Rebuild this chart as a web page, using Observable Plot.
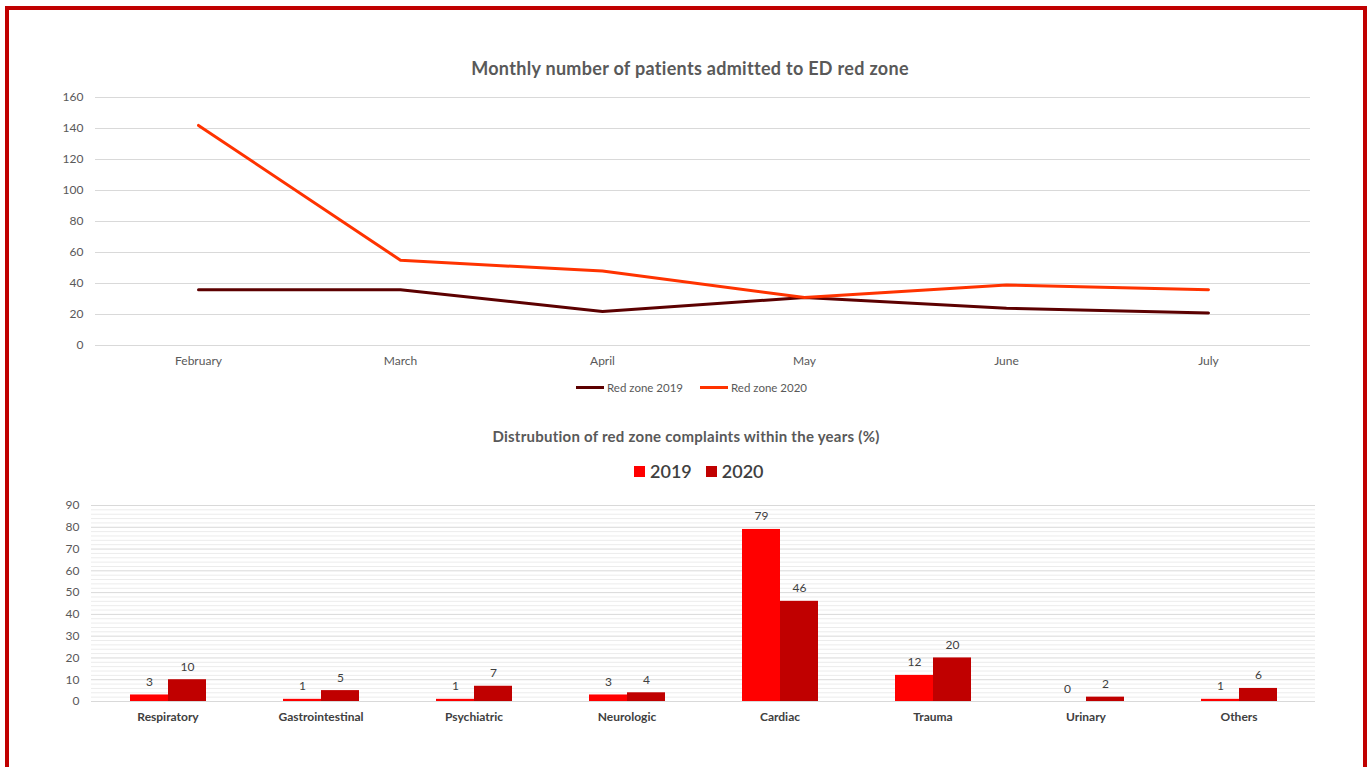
<!DOCTYPE html>
<html><head><meta charset="utf-8">
<script src="https://cdn.jsdelivr.net/npm/d3@7"></script>
<script src="https://cdn.jsdelivr.net/npm/@observablehq/plot@0.6"></script>
<style>
html,body{margin:0;padding:0;background:#fff;width:1370px;height:767px;overflow:hidden;font-family:Lato,"Open Sans",sans-serif;}
#frame{position:absolute;left:5px;top:6px;width:1354px;height:820px;border:4px solid #c00000;}
.abs{position:absolute;}
.title{width:1000px;text-align:center;font-weight:bold;color:#595959;white-space:nowrap;}
#t1{left:190px;top:57px;font-size:18px;letter-spacing:0.3px;}
#t2{left:186px;top:427px;font-size:15px;letter-spacing:0.25px;}
#lg1{left:576px;top:381px;display:flex;align-items:center;font-size:11.5px;color:#595959;white-space:nowrap;}
#lg1 .sw{display:inline-block;width:28px;height:3px;margin-right:3px;}
#lg2{left:634px;top:460px;display:flex;align-items:center;font-size:18px;font-weight:600;color:#404040;white-space:nowrap;}
#lg2 .sq{display:inline-block;width:11px;height:11px;margin-right:5px;}
</style></head>
<body>
<div id="frame"></div>
<div id="t1" class="abs title">Monthly number of patients admitted to ED red zone</div>
<div id="c1" class="abs" style="left:0;top:80px"></div>
<div id="lg1" class="abs"></div>
<div id="t2" class="abs title">Distrubution of red zone complaints within the years (%)</div>
<div id="lg2" class="abs"></div>
<div id="c2" class="abs" style="left:0;top:490px"></div>
<script>
const months = ["February","March","April","May","June","July"];
const seriesNames = ["Red zone 2019","Red zone 2020"];
const zone2019 = [36,36,22,31,24,21];
const zone2020 = [142,55,48,31,39,36];
const lineColors = ["#5c0000","#ff3300"];

const complaints = ["Respiratory","Gastrointestinal","Psychiatric","Neurologic","Cardiac","Trauma","Urinary","Others"];
const years = ["2019","2020"];
const pct2019 = [3,1,1,3,79,12,0,1];
const pct2020 = [10,5,7,4,46,20,2,6];
const barColors = ["#ff0000","#c00000"];

const lineData = months.flatMap((m,i)=>[
  {month:m, series:seriesNames[0], value:zone2019[i]},
  {month:m, series:seriesNames[1], value:zone2020[i]}
]);
const yTicks1 = d3.range(0,161,20);

const chart1 = Plot.plot({
  width:1370, height:300, marginTop:17, marginBottom:35, marginLeft:95, marginRight:60,
  style:{fontFamily:"Lato, sans-serif", fontSize:"12px", color:"#595959", background:"transparent"},
  x:{type:"point", domain:months, padding:0.5, label:null},
  y:{domain:[0,160], label:null},
  color:{domain:seriesNames, range:lineColors},
  marks:[
    Plot.ruleY(yTicks1, {stroke:"#d9d9d9", strokeWidth:1}),
    Plot.axisY(yTicks1, {tickSize:0, tickPadding:12, label:null}),
    Plot.axisX({tickSize:0, tickPadding:11, label:null}),
    Plot.line(lineData, {x:"month", y:"value", z:"series", stroke:"series", strokeWidth:3})
  ]
});
document.getElementById("c1").appendChild(chart1);

const lg1 = document.getElementById("lg1");
seriesNames.forEach((s,i)=>{
  const item = document.createElement("span");
  item.style.display="inline-flex"; item.style.alignItems="center";
  item.style.marginRight = i===0 ? "17px" : "0";
  item.innerHTML = `<span class="sw" style="background:${lineColors[i]}"></span>${s}`;
  lg1.appendChild(item);
});

const barData = complaints.flatMap((c,i)=>[
  {cat:c, year:years[0], value:pct2019[i]},
  {cat:c, year:years[1], value:pct2020[i]}
]);
const minor = d3.range(0,91,2).filter(v=>v%10!==0);
const major = d3.range(0,91,10);

const chart2 = Plot.plot({
  width:1370, height:250, marginTop:15, marginBottom:39, marginLeft:90, marginRight:54,
  style:{fontFamily:"Lato, sans-serif", fontSize:"12px", color:"#595959", background:"transparent"},
  fx:{domain:complaints, padding:0, label:null},
  x:{domain:years, paddingInner:0, paddingOuter:0.965, axis:null},
  y:{domain:[0,90], label:null},
  color:{domain:years, range:barColors},
  marks:[
    Plot.ruleY(minor, {stroke:"#ececec", strokeWidth:1}),
    Plot.ruleY(major, {stroke:"#d9d9d9", strokeWidth:1}),
    Plot.axisY(major, {tickSize:0, tickPadding:12, label:null}),
    Plot.axisFx({anchor:"bottom", tickSize:0, tickPadding:11, label:null, fontWeight:"bold", fill:"#404040", fontSize:12}),
    Plot.barY(barData, {fx:"cat", x:"year", y:"value", fill:"year"}),
    Plot.text(barData, {fx:"cat", x:"year", y:"value", text:d=>String(d.value), lineAnchor:"bottom", dy:-9, fill:"#404040", fontSize:12})
  ]
});
document.getElementById("c2").appendChild(chart2);

const lg2 = document.getElementById("lg2");
years.forEach((y,i)=>{
  const item = document.createElement("span");
  item.style.display="inline-flex"; item.style.alignItems="center";
  item.style.marginRight = i===0 ? "14px" : "0";
  item.innerHTML = `<span class="sq" style="background:${barColors[i]}"></span>${y}`;
  lg2.appendChild(item);
});
</script>
</body></html>
